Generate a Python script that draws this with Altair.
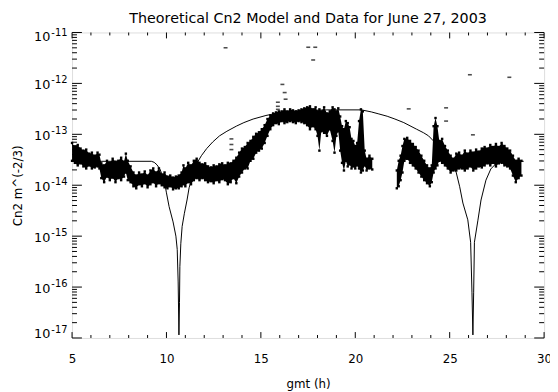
import altair as alt
import pandas as pd

title_text = "Theoretical Cn2 Model and Data for June 27, 2003"
x_title = "gmt (h)"
y_title = "Cn2 m^(-2/3)"

# measured data band (log10 of Cn2, upper and lower edge of the dense point cloud)
band_gmt = [5.0, 5.15, 5.3, 5.45, 5.6, 5.75, 5.9, 6.05, 6.2, 6.35, 6.45, 6.55, 6.7, 6.85, 7.0, 7.15, 7.3, 7.45,
            7.6, 7.75, 7.85, 7.95, 8.1, 8.25, 8.4, 8.55, 8.7, 8.85, 9.0, 9.15, 9.3, 9.45, 9.6, 9.75, 9.9, 10.05,
            10.2, 10.35, 10.5, 10.65, 10.8, 10.9, 11.0, 11.15, 11.3, 11.45, 11.6, 11.75, 11.9, 12.05, 12.2, 12.35,
            12.5, 12.65, 12.8, 12.95, 13.1, 13.25, 13.4, 13.55, 13.7, 13.85, 14.0, 14.15, 14.3, 14.45, 14.6, 14.75,
            14.9, 15.05, 15.2, 15.35, 15.5, 15.65, 15.8, 15.95, 16.1, 16.25, 16.4, 16.55, 16.7, 16.85, 17.0, 17.15,
            17.3, 17.45, 17.6, 17.75, 17.9, 18.0, 18.1, 18.2, 18.35, 18.5, 18.65, 18.8, 18.9, 19.0, 19.1, 19.2,
            19.3, 19.4, 19.5, 19.6, 19.7, 19.8, 19.9, 20.0, 20.1, 20.2, 20.3, 20.4, 20.5, 20.6, 20.75, 20.9,
            22.2, 22.3, 22.4, 22.5, 22.6, 22.75, 22.9, 23.05, 23.2, 23.35, 23.5, 23.65, 23.8, 23.95, 24.05, 24.15,
            24.25, 24.35, 24.45, 24.6, 24.75, 24.9, 25.05, 25.2, 25.35, 25.5, 25.65, 25.8, 25.95, 26.1, 26.25, 26.4,
            26.55, 26.7, 26.85, 27.0, 27.15, 27.3, 27.45, 27.6, 27.75, 27.9, 28.05, 28.2, 28.35, 28.5, 28.65, 28.8]
band_top_log = [-13.17, -13.25, -13.21, -13.28, -13.32, -13.30, -13.38, -13.36, -13.42, -13.36, -13.40, -13.57,
                -13.61, -13.52, -13.56, -13.48, -13.54, -13.52, -13.46, -13.54, -13.38, -13.52, -13.63, -13.75,
                -13.81, -13.75, -13.79, -13.73, -13.81, -13.71, -13.67, -13.75, -13.67, -13.79, -13.75, -13.83,
                -13.81, -13.85, -13.83, -13.81, -13.75, -13.61, -13.67, -13.56, -13.61, -13.52, -13.48, -13.56,
                -13.59, -13.57, -13.63, -13.65, -13.61, -13.63, -13.59, -13.57, -13.61, -13.56, -13.57, -13.52,
                -13.46, -13.36, -13.28, -13.25, -13.17, -13.13, -13.05, -12.99, -12.96, -12.90, -12.82, -12.70,
                -12.63, -12.59, -12.57, -12.55, -12.55, -12.51, -12.55, -12.51, -12.53, -12.55, -12.53, -12.51,
                -12.49, -12.47, -12.45, -12.51, -12.47, -12.55, -12.51, -12.55, -12.47, -12.59, -12.55, -12.47,
                -12.51, -12.55, -12.49, -12.65, -12.84, -12.90, -12.74, -12.78, -12.86, -13.09, -13.13, -13.23,
                -13.17, -12.74, -12.51, -12.55, -13.32, -13.48, -13.42, -13.48,
                -13.71, -13.52, -13.42, -13.23, -13.09, -13.07, -13.13, -13.19, -13.25, -13.32, -13.42, -13.52,
                -13.61, -13.67, -13.61, -12.84, -12.68, -12.84, -13.13, -13.09, -13.23, -13.32, -13.42, -13.48,
                -13.38, -13.36, -13.42, -13.32, -13.38, -13.32, -13.36, -13.30, -13.34, -13.28, -13.25, -13.28,
                -13.21, -13.25, -13.19, -13.25, -13.17, -13.23, -13.28, -13.32, -13.42, -13.52, -13.48, -13.52]
band_bot_log = [-13.52, -13.56, -13.61, -13.57, -13.63, -13.67, -13.61, -13.67, -13.65, -13.63, -13.67, -13.86,
                -13.94, -13.83, -13.90, -13.85, -13.94, -13.86, -13.90, -13.83, -13.75, -13.90, -13.94, -14.02,
                -14.06, -13.98, -14.02, -13.96, -14.04, -13.98, -13.94, -14.02, -13.96, -14.00, -14.04, -14.06,
                -14.02, -14.08, -14.06, -14.06, -14.02, -13.98, -14.02, -13.94, -13.98, -13.90, -13.86, -13.90,
                -13.86, -13.90, -13.94, -13.92, -13.96, -13.90, -13.94, -13.88, -13.90, -13.98, -13.94, -13.86,
                -13.96, -13.83, -13.75, -13.67, -13.67, -13.52, -13.48, -13.36, -13.32, -13.28, -13.17, -13.03,
                -12.90, -12.82, -12.78, -12.80, -12.74, -12.78, -12.76, -12.74, -12.76, -12.78, -12.74, -12.76,
                -12.78, -12.82, -12.90, -12.84, -12.90, -13.03, -13.32, -12.94, -12.97, -13.03, -12.90, -13.13,
                -13.36, -13.03, -12.94, -13.32, -13.56, -13.71, -13.52, -13.63, -13.59, -13.67, -13.63, -13.67,
                -13.61, -13.67, -13.75, -13.71, -13.61, -13.71, -13.67, -13.69,
                -14.06, -14.02, -13.90, -13.75, -13.52, -13.48, -13.56, -13.61, -13.67, -13.75, -13.83, -13.90,
                -13.96, -14.02, -13.94, -13.75, -13.67, -13.61, -13.52, -13.56, -13.61, -13.67, -13.75, -13.71,
                -13.71, -13.67, -13.67, -13.71, -13.67, -13.63, -13.71, -13.67, -13.63, -13.65, -13.61, -13.57,
                -13.61, -13.56, -13.63, -13.57, -13.56, -13.61, -13.63, -13.67, -13.81, -13.94, -13.86, -13.81]

# theoretical model curve (log10 of Cn2)
model_gmt = [5.0, 9.2, 9.35, 9.5, 9.65, 9.8, 9.9, 10.0, 10.14, 10.35, 10.5, 10.57, 10.62, 10.66, 10.69, 10.71,
             10.76, 10.83, 10.95, 11.09, 11.2, 11.35, 11.61, 11.85, 12.13, 12.45, 12.81, 13.2, 13.7, 14.1, 14.59,
             15.27, 15.8, 16.31, 16.9, 17.61, 18.5, 20.33, 20.85, 21.25, 21.69, 22.1, 22.57, 23.25, 23.62, 23.88,
             24.14, 24.66, 25.01, 25.34, 25.53, 25.70, 25.96, 26.11, 26.18, 26.23, 26.27, 26.31, 26.49, 26.66,
             26.92, 27.18, 27.44, 27.70, 28.92]
model_log = [-13.53, -13.53, -13.55, -13.60, -13.68, -13.82, -13.95, -14.15, -14.42, -14.72, -15.0, -15.26,
             -15.9, -16.94, -16.3, -15.6, -15.15, -14.81, -14.55, -14.29, -14.05, -13.85, -13.57, -13.42, -13.28,
             -13.15, -13.03, -12.94, -12.84, -12.77, -12.70, -12.63, -12.59, -12.56, -12.54, -12.53, -12.52,
             -12.52, -12.56, -12.60, -12.645, -12.70, -12.77, -12.90, -12.97, -13.03, -13.13, -13.32, -13.52,
             -13.74, -14.03, -14.35, -14.68, -15.12, -16.1, -16.94, -16.1, -15.12, -14.70, -14.29, -13.90,
             -13.68, -13.58, -13.53, -13.53]

# isolated data points
out_gmt = [13.13, 17.51, 17.88, 17.77, 16.14, 16.26, 16.31, 15.9, 15.9, 15.9, 26.07, 28.16, 22.83, 24.81,
           24.81, 26.23, 13.44, 13.44, 13.44]
out_log = [-11.30, -11.29, -11.29, -11.54, -12.02, -12.18, -12.31, -12.37, -12.45, -12.51, -11.83, -11.88,
           -12.50, -12.48, -12.74, -13.01, -13.09, -13.20, -13.30]

x_major = [5, 10, 15, 20, 25, 30]
x_minor = [6, 7, 8, 9, 11, 12, 13, 14, 16, 17, 18, 19, 21, 22, 23, 24, 26, 27, 28, 29]
y_major_exp = [-17, -16, -15, -14, -13, -12, -11]

W, H = 479, 310
FONT = "DejaVu Sans"

band = pd.DataFrame({
    "gmt": band_gmt,
    "hi": [10.0 ** v for v in band_top_log],
    "lo": [10.0 ** v for v in band_bot_log],
})
band["seg"] = ["a" if g < 21.5 else "b" for g in band_gmt]
edges = pd.DataFrame({"gmt": band_gmt + band_gmt, "cn2": list(band["hi"]) + list(band["lo"])})
model = pd.DataFrame({"gmt": model_gmt, "cn2": [10.0 ** v for v in model_log]})
outl = pd.DataFrame({"gmt": out_gmt, "cn2": [10.0 ** v for v in out_log]})

y_major = [10.0 ** e for e in y_major_exp]
y_minor = [k * 10.0 ** e for e in y_major_exp[:-1] for k in range(2, 10)]

xs = alt.Scale(domain=[5, 30], nice=False, zero=False)
ys = alt.Scale(type="log", domain=[1e-17, 1e-11], nice=False)

x_axis = alt.Axis(values=x_major, ticks=False, domain=False, grid=False, labelFlush=False,
                  labelPadding=16, labelFontSize=12, labelFont=FONT, labelColor="black",
                  title=x_title, titleFontSize=12, titleFont=FONT, titleFontWeight="normal",
                  titleColor="black", titleX=W / 2, titleY=50, titleBaseline="alphabetic")
y_axis = alt.Axis(values=y_major, ticks=False, domain=False, grid=False, labels=False,
                  title=y_title, titleFontSize=12, titleFont=FONT, titleFontWeight="normal",
                  titleColor="black", titleX=-55, titleY=H / 2, titleAngle=270,
                  titleAlign="center", titleBaseline="middle")

X = alt.X("gmt:Q", scale=xs, axis=x_axis)

band_layer = alt.Chart(band).mark_area(color="black", opacity=1).encode(
    x=X, y=alt.Y("hi:Q", scale=ys, axis=y_axis), y2="lo:Q", detail="seg:N")
edge_layer = alt.Chart(edges).mark_square(color="black", size=6, opacity=1).encode(
    x=X, y=alt.Y("cn2:Q", scale=ys, axis=y_axis))
model_layer = alt.Chart(model).mark_line(color="black", strokeWidth=1).encode(
    x=X, y=alt.Y("cn2:Q", scale=ys, axis=y_axis))
out_layer = alt.Chart(outl).mark_tick(orient="horizontal", color="black", size=4, thickness=1.6).encode(
    x=X, y=alt.Y("cn2:Q", scale=ys, axis=y_axis))


def xticks(vals, length):
    d = pd.DataFrame({"v": vals})
    bottom = alt.Chart(d).mark_rule(color="black", strokeWidth=1).encode(
        x=alt.X("v:Q", scale=xs, axis=x_axis), y=alt.value(H), y2=alt.value(H - length))
    top = alt.Chart(d).mark_rule(color="black", strokeWidth=1).encode(
        x=alt.X("v:Q", scale=xs, axis=x_axis), y=alt.value(0), y2=alt.value(length))
    return [bottom, top]


def yticks(vals, length):
    d = pd.DataFrame({"v": vals})
    left = alt.Chart(d).mark_rule(color="black", strokeWidth=1).encode(
        y=alt.Y("v:Q", scale=ys, axis=y_axis), x=alt.value(0), x2=alt.value(length))
    right = alt.Chart(d).mark_rule(color="black", strokeWidth=1).encode(
        y=alt.Y("v:Q", scale=ys, axis=y_axis), x=alt.value(W), x2=alt.value(W - length))
    return [left, right]


def ylabels():
    out = []
    groups = [([y_major_exp[0]], -4, -8), (y_major_exp[1:-1], 2, -3), ([y_major_exp[-1]], 5, 1)]
    for exps, dy_base, dy_exp in groups:
        d = pd.DataFrame({"v": [10.0 ** e for e in exps], "base": ["10"] * len(exps),
                          "exp": [str(e) for e in exps]})
        out.append(alt.Chart(d).mark_text(align="right", baseline="middle", dy=dy_base, fontSize=13,
                                          font=FONT, color="black").encode(
            y=alt.Y("v:Q", scale=ys, axis=y_axis), x=alt.value(-22), text="base:N"))
        out.append(alt.Chart(d).mark_text(align="left", baseline="middle", dy=dy_exp, fontSize=10,
                                          font=FONT, color="black").encode(
            y=alt.Y("v:Q", scale=ys, axis=y_axis), x=alt.value(-21), text="exp:N"))
    return out


title_layer = alt.Chart(pd.DataFrame({"t": [title_text]})).mark_text(
    align="center", baseline="alphabetic", fontSize=14.5, font=FONT, color="black").encode(
    x=alt.value(W / 2), y=alt.value(-10), text="t:N")

layers = [band_layer, edge_layer, model_layer, out_layer] + xticks(x_major, 6) + xticks(x_minor, 3) \
    + yticks(y_major, 10) + yticks(y_minor, 5) + ylabels() + [title_layer]

chart = alt.layer(*layers).properties(
    width=W, height=H,
    padding={"left": 65, "top": 22, "right": 6, "bottom": 54},
    autosize=alt.AutoSizeParams(type="none"),
).configure_view(stroke="black", strokeWidth=1).configure(background="white")

chart.save("out.html", embed_options={"renderer": "svg", "actions": False})
